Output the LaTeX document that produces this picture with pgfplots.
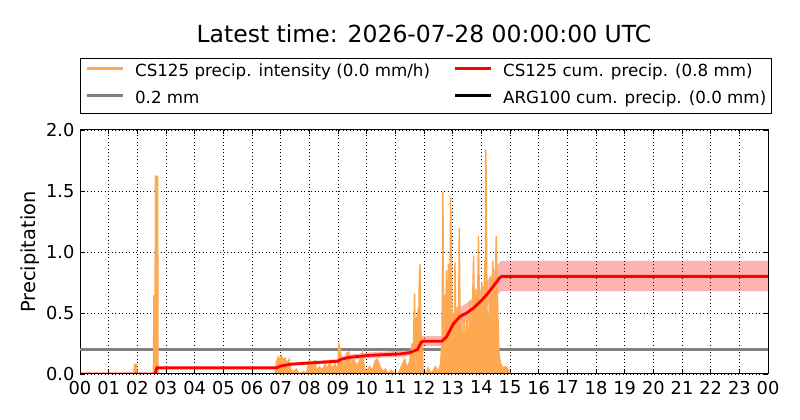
\documentclass[border=0pt]{standalone}
\usepackage{fontspec}
\setmainfont{DejaVu Sans}
\usepackage{pgfplots}
\usepgfplotslibrary{fillbetween}
\pgfplotsset{compat=1.18}
\usepackage{pgfplotstable}
\definecolor{orangec}{RGB}{255,168,82}
\definecolor{grayc}{RGB}{128,128,128}

\pgfplotstableread{
x y
0 0
1.88 0
1.90 0.08
1.97 0.08
1.99 0
2.56 0
2.58 0.64
2.62 0.64
2.63 1.62
2.71 1.62
2.72 0
6.82 0
6.85 0.10
6.92 0.14
6.97 0.11
7.02 0.15
7.08 0.12
7.15 0.13
7.22 0.09
7.30 0.12
7.35 0.03
7.45 0.02
7.55 0.04
7.65 0.00
7.80 0.02
7.90 0.0
8.00 0.11
8.10 0.09
8.20 0.11
8.25 0.02
8.35 0.06
8.45 0.03
8.55 0.08
8.62 0.04
8.70 0.09
8.80 0.05
8.90 0.08
8.98 0.02
9.03 0.24
9.08 0.20
9.12 0.11
9.20 0.08
9.30 0.17
9.38 0.18
9.45 0.09
9.55 0.12
9.65 0.07
9.75 0.10
9.85 0.18
9.92 0.05
10.0 0.02
10.10 0.06
10.20 0.03
10.30 0.11
10.37 0.12
10.45 0.07
10.55 0.02
10.65 0.04
10.75 0.00
10.85 0.03
10.95 0.01
11.10 0.00
11.25 0.08
11.33 0.12
11.40 0.05
11.50 0.10
11.58 0.25
11.62 0.10
11.64 0.34
11.67 0.66
11.70 0.20
11.74 0.45
11.78 0.50
11.81 0.15
11.83 0.70
11.86 0.90
11.89 0.40
11.92 0.10
11.94 0.30
11.97 0.0
12.05 0.0
12.15 0.05
12.25 0.0
12.40 0.06
12.50 0.02
12.58 0.08
12.63 0.30
12.66 1.49
12.69 0.20
12.73 0.65
12.75 0.15
12.78 0.85
12.81 0.10
12.85 0.90
12.89 0.35
12.93 1.45
12.96 0.80
12.99 0.20
13.02 0.50
13.05 0.10
13.08 0.92
13.12 0.10
13.16 0.55
13.20 0.15
13.23 1.20
13.27 0.12
13.31 0.50
13.35 0.10
13.40 0.45
13.44 0.15
13.50 0.50
13.55 0.12
13.60 0.60
13.66 0.20
13.73 0.97
13.77 0.25
13.81 0.70
13.85 0.25
13.90 1.13
13.95 0.35
14.02 0.75
14.07 0.40
14.12 0.93
14.14 0.35
14.16 1.84
14.20 0.50
14.26 0.45
14.31 0.80
14.36 0.45
14.40 0.93
14.46 0.50
14.52 1.13
14.57 0.55
14.62 0.15
14.68 0.08
14.75 0.05
14.85 0.06
14.95 0.03
15.02 0.0
24 0
}\intensity

\pgfplotstableread{
x y lo hi
0 0 0 0
2.62 0 0 0
2.68 0.05 0.0425 0.058
6.85 0.05 0.0425 0.058
7.0 0.065 0.055 0.075
7.33 0.08 0.068 0.093
8.0 0.09 0.0765 0.104
9.0 0.105 0.089 0.122
9.1 0.12 0.102 0.139
9.4 0.137 0.116 0.159
10.1 0.153 0.130 0.177
11.15 0.164 0.139 0.190
11.5 0.175 0.149 0.203
11.77 0.20 0.170 0.232
11.9 0.26 0.221 0.302
11.97 0.268 0.228 0.311
12.62 0.268 0.228 0.311
12.79 0.306 0.260 0.355
13.02 0.41 0.349 0.476
13.25 0.47 0.400 0.545
13.49 0.50 0.425 0.580
13.72 0.54 0.459 0.626
13.95 0.59 0.502 0.684
14.19 0.65 0.553 0.754
14.42 0.72 0.612 0.835
14.63 0.785 0.667 0.911
14.7 0.80 0.68 0.928
24 0.80 0.68 0.928
}\cum

\begin{document}
\begin{tikzpicture}
\begin{axis}[
  at={(80bp,46bp)}, anchor=south west,
  width=688bp, height=244bp, scale only axis,
  xmin=0, xmax=24, ymin=0, ymax=2,
  xtick={0,1,...,24},
  xticklabels={00,01,02,03,04,05,06,07,08,09,10,11,12,13,14,15,16,17,18,19,20,21,22,23,00},
  ytick={0,0.5,1,1.5,2},
  yticklabel style={/pgf/number format/fixed, /pgf/number format/fixed zerofill, /pgf/number format/precision=1, xshift=-2bp},
  /pgf/number format/assume math mode=true,
  tick label style={font=\fontsize{17.8bp}{21bp}\selectfont},
  xticklabel style={yshift=-3.5bp},
  ylabel={Precipitation},
  every axis y label/.style={at={(axis description cs:0,0.5)}, xshift=-50bp, rotate=90, anchor=center,
    font=\fontsize{19.4bp}{23bp}\selectfont},
  tick align=inside, major tick length=4bp,
  tick style={black, line width=0.6bp},
  grid=major,
  grid style={black, line width=0.6bp, dash pattern=on 1bp off 2.5bp},
  axis line style={black, line width=1bp},
]
\addplot[grayc, line width=2.8bp] coordinates {(0,0.2) (24,0.2)};
\addplot[fill=orangec, draw=orangec, line width=1.4bp] table[x=x,y=y] {\intensity} \closedcycle;
\addplot[name path=hi, draw=none] table[x=x,y=hi] {\cum};
\addplot[name path=lo, draw=none] table[x=x,y=lo] {\cum};
\addplot[fill=red, fill opacity=0.3, draw=none] fill between[of=hi and lo];
\addplot[red, line width=2.8bp] table[x=x,y=y] {\cum};
\addplot[black, line width=2.8bp] coordinates {(0,0) (24,0)};
\end{axis}
\begin{axis}[
  at={(80bp,46bp)}, anchor=south west,
  width=688bp, height=244bp, scale only axis,
  xmin=0, xmax=24, ymin=0, ymax=2,
  hide axis,
  legend columns=2,
  legend style={at={(0,1)}, anchor=south west, yshift=16bp,
    draw=black, line width=0.8bp,
    inner xsep=5.3bp, inner ysep=5bp,
    font=\fontsize{16.7bp}{20bp}\selectfont,
    nodes={inner sep=0pt, text height=13bp, text depth=5bp},
    /tikz/every even column/.append style={column sep=10.6bp},
    /tikz/every odd column/.append style={column sep=10.6bp},
    row sep=9bp},
  legend cell align=left,
  legend image code/.code={\draw[#1] (0bp,4bp) -- (36bp,4bp);},
]
\addlegendimage{orangec, line width=2.8bp}
\addlegendentry{\makebox[308bp][l]{CS125 precip. intensity (0.0 mm/h)}}
\addlegendimage{red, line width=2.8bp}
\addlegendentry{\makebox[256bp][l]{CS125 cum. precip. (0.8 mm)}}
\addlegendimage{grayc, line width=2.8bp}
\addlegendentry{0.2 mm}
\addlegendimage{black, line width=2.8bp}
\addlegendentry{ARG100 cum. precip. (0.0 mm)}
\end{axis}
\node[anchor=base, font=\fontsize{23.5bp}{28bp}\selectfont] at (424bp,377.3bp) {Latest time: 2026-07-28 00:00:00 UTC};
\pgfresetboundingbox
\path[use as bounding box] (0,0) rectangle (800bp,420bp);
\end{tikzpicture}
\end{document}
